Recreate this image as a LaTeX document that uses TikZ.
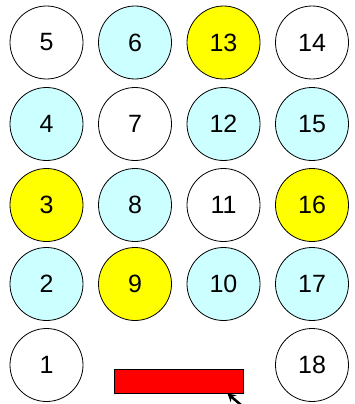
\documentclass[tikz,border=0pt]{standalone}
\usepackage{fontspec}
\setmainfont{Liberation Sans}
\usetikzlibrary{arrows.meta}
\definecolor{lcyan}{HTML}{CCFFFF}
\definecolor{yel}{HTML}{FFFF00}
\definecolor{rd}{HTML}{FF0000}
\begin{document}
\begin{tikzpicture}[x=1pt,y=-1pt,
  ball/.style={circle,draw=black,line width=0.8pt,minimum size=73pt,inner sep=0pt,font=\fontsize{25}{30}\selectfont},
  wb/.style={ball,fill=white},
  cb/.style={ball,fill=lcyan},
  yb/.style={ball,fill=yel}]
\useasboundingbox (0,0) rectangle (355,404);
\def\ca{46.5}\def\cb{135}\def\cc{223.5}\def\cd{312}
\def\ra{42.5}\def\rb{124}\def\rc{205}\def\rd{284}\def\re{365}
\node[wb] (n5) at (\ca,\ra) {5};
\node[cb] (n6) at (\cb,\ra) {6};
\node[yb] (n13) at (\cc,\ra) {13};
\node[wb] (n14) at (\cd,\ra) {14};
\node[cb] (n4) at (\ca,\rb) {4};
\node[wb] (n7) at (\cb,\rb) {7};
\node[cb] (n12) at (\cc,\rb) {12};
\node[cb] (n15) at (\cd,\rb) {15};
\node[yb] (n3) at (\ca,\rc) {3};
\node[cb] (n8) at (\cb,\rc) {8};
\node[wb] (n11) at (\cc,\rc) {11};
\node[yb] (n16) at (\cd,\rc) {16};
\node[cb] (n2) at (\ca,\rd) {2};
\node[yb] (n9) at (\cb,\rd) {9};
\node[cb] (n10) at (\cc,\rd) {10};
\node[cb] (n17) at (\cd,\rd) {17};
\node[wb] (n1) at (\ca,\re) {1};
\node[wb] (n18) at (\cd,\re) {18};
\node[draw=black,line width=0.8pt,fill=rd,minimum width=129pt,minimum height=24pt,inner sep=0pt] (bar) at (178.5,381) {};
\coordinate (tail) at (241,405);
\coordinate (tip) at (227.5,393.5);
\draw[line width=2.5pt,-{Stealth[length=8pt,width=9pt]}] (tail) -- (tip);
\end{tikzpicture}
\end{document}
